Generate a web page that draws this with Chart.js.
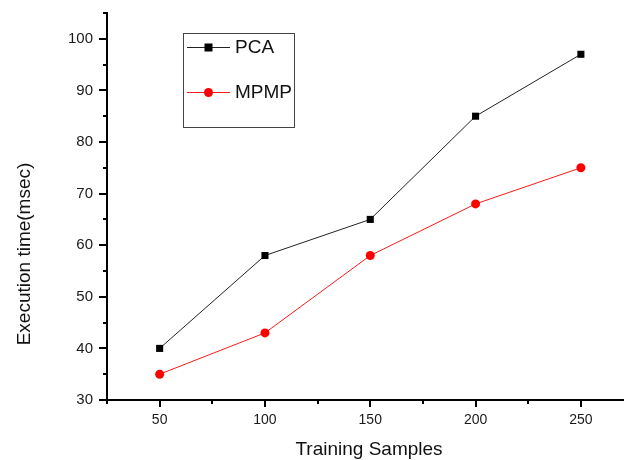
<!DOCTYPE html>
<html>
<head>
<meta charset="utf-8">
<script src="https://cdn.jsdelivr.net/npm/chart.js@4"></script>
<style>
  html, body { margin: 0; padding: 0; background: #fff; overflow: hidden; }
  #wrap { width: 628px; height: 460px; }
</style>
</head>
<body>
<div id="wrap"><canvas id="myChart" width="628" height="460"></canvas></div>
<script>
// --- Data ---
const samples = [50, 100, 150, 200, 250];
const pcaTimes = [40, 58, 65, 85, 97];
const mpmpTimes = [35, 43, 58, 68, 75];
const xLabels = [50, 100, 150, 200, 250];
const yLabels = [30, 40, 50, 60, 70, 80, 90, 100];

const FONT = '"Liberation Sans", Arial, sans-serif';

// --- Tick marks (major longer, minor shorter), drawn outward ---
const tickMarks = {
  id: 'tickMarks',
  afterDraw(chart) {
    const ctx = chart.ctx;
    const x = chart.scales.x, y = chart.scales.y;
    ctx.save();
    ctx.strokeStyle = '#000';
    ctx.lineWidth = 2;
    x.ticks.forEach(t => {
      const px = Math.round(x.getPixelForValue(t.value));
      const len = xLabels.includes(t.value) ? 7 : 4;
      ctx.beginPath();
      ctx.moveTo(px, x.top);
      ctx.lineTo(px, x.top + len);
      ctx.stroke();
    });
    y.ticks.forEach(t => {
      const py = Math.round(y.getPixelForValue(t.value));
      const len = yLabels.includes(t.value) ? 8 : 4;
      ctx.beginPath();
      ctx.moveTo(y.right, py);
      ctx.lineTo(y.right - len, py);
      ctx.stroke();
    });
    ctx.restore();
  }
};

// --- Axis titles and boxed legend ---
const decorations = {
  id: 'decorations',
  afterDraw(chart) {
    const ctx = chart.ctx;
    ctx.save();
    ctx.fillStyle = '#111';
    ctx.font = '19px ' + FONT;
    ctx.textAlign = 'center';
    ctx.textBaseline = 'middle';
    ctx.fillText('Training Samples', 369, 450);

    ctx.translate(25, 254);
    ctx.rotate(-Math.PI / 2);
    ctx.fillText('Execution time(msec)', 0, 0);
    ctx.restore();

    // legend box
    ctx.save();
    ctx.strokeStyle = '#444';
    ctx.lineWidth = 1;
    ctx.strokeRect(183.5, 33.5, 111, 94);
    const rows = [47, 92];
    chart.data.datasets.forEach((ds, i) => {
      const ly = rows[i];
      ctx.strokeStyle = ds.borderColor;
      ctx.lineWidth = 1;
      ctx.beginPath();
      ctx.moveTo(187, ly + 0.5);
      ctx.lineTo(230, ly + 0.5);
      ctx.stroke();
      ctx.fillStyle = ds.pointBackgroundColor;
      if (ds.pointStyle === 'rect') {
        ctx.fillRect(204.5, ly - 3.5, 8, 8);
      } else {
        ctx.beginPath();
        ctx.arc(208.5, ly + 0.5, 4.5, 0, Math.PI * 2);
        ctx.fill();
      }
      ctx.fillStyle = '#111';
      ctx.font = '19px ' + FONT;
      ctx.textAlign = 'left';
      ctx.textBaseline = 'middle';
      ctx.fillText(ds.label, 235, ly + 1);
    });
    ctx.restore();
  }
};

const ctx = document.getElementById('myChart').getContext('2d');
const chart = new Chart(ctx, {
  type: 'line',
  data: {
    datasets: [
      {
        label: 'PCA',
        data: samples.map((s, i) => ({ x: s, y: pcaTimes[i] })),
        borderColor: '#222',
        borderWidth: 1,
        pointStyle: 'rect',
        pointRadius: 5,
        pointBackgroundColor: '#000',
        pointBorderColor: '#000',
        pointBorderWidth: 0,
        tension: 0
      },
      {
        label: 'MPMP',
        data: samples.map((s, i) => ({ x: s, y: mpmpTimes[i] })),
        borderColor: '#ff1a1a',
        borderWidth: 1,
        pointStyle: 'circle',
        pointRadius: 4.5,
        pointBackgroundColor: '#ff0000',
        pointBorderColor: '#ff0000',
        pointBorderWidth: 0,
        tension: 0
      }
    ]
  },
  options: {
    responsive: false,
    animation: false,
    events: [],
    layout: { padding: { top: 13, right: 0, left: 0, bottom: 0 } },
    plugins: {
      legend: { display: false },
      tooltip: { enabled: false }
    },
    scales: {
      x: {
        type: 'linear',
        min: 25,
        max: 270,
        afterFit: s => {
          s.height = 60;
          s.paddingLeft = 0;
          s.paddingRight = 0;
        },
        afterBuildTicks: s => {
          s.ticks = [];
          for (let v = 25; v <= 250; v += 25) s.ticks.push({ value: v });
        },
        grid: { display: false, drawTicks: false },
        border: { display: true, color: '#000', width: 2 },
        ticks: {
          padding: 12,
          color: '#1a1a1a',
          font: { family: FONT, size: 14 },
          autoSkip: false,
          maxRotation: 0,
          callback: v => xLabels.includes(v) ? String(v) : ''
        }
      },
      y: {
        min: 30,
        max: 105,
        afterFit: s => {
          s.width = 107;
          s.paddingTop = 0;
          s.paddingBottom = 0;
        },
        afterBuildTicks: s => {
          s.ticks = [];
          for (let v = 30; v <= 105; v += 5) s.ticks.push({ value: v });
        },
        grid: { display: false, drawTicks: false },
        border: { display: true, color: '#000', width: 2 },
        ticks: {
          padding: 14,
          color: '#1a1a1a',
          font: { family: FONT, size: 15 },
          autoSkip: false,
          callback: v => yLabels.includes(v) ? String(v) : ''
        }
      }
    }
  },
  plugins: [tickMarks, decorations]
});
</script>
</body>
</html>
